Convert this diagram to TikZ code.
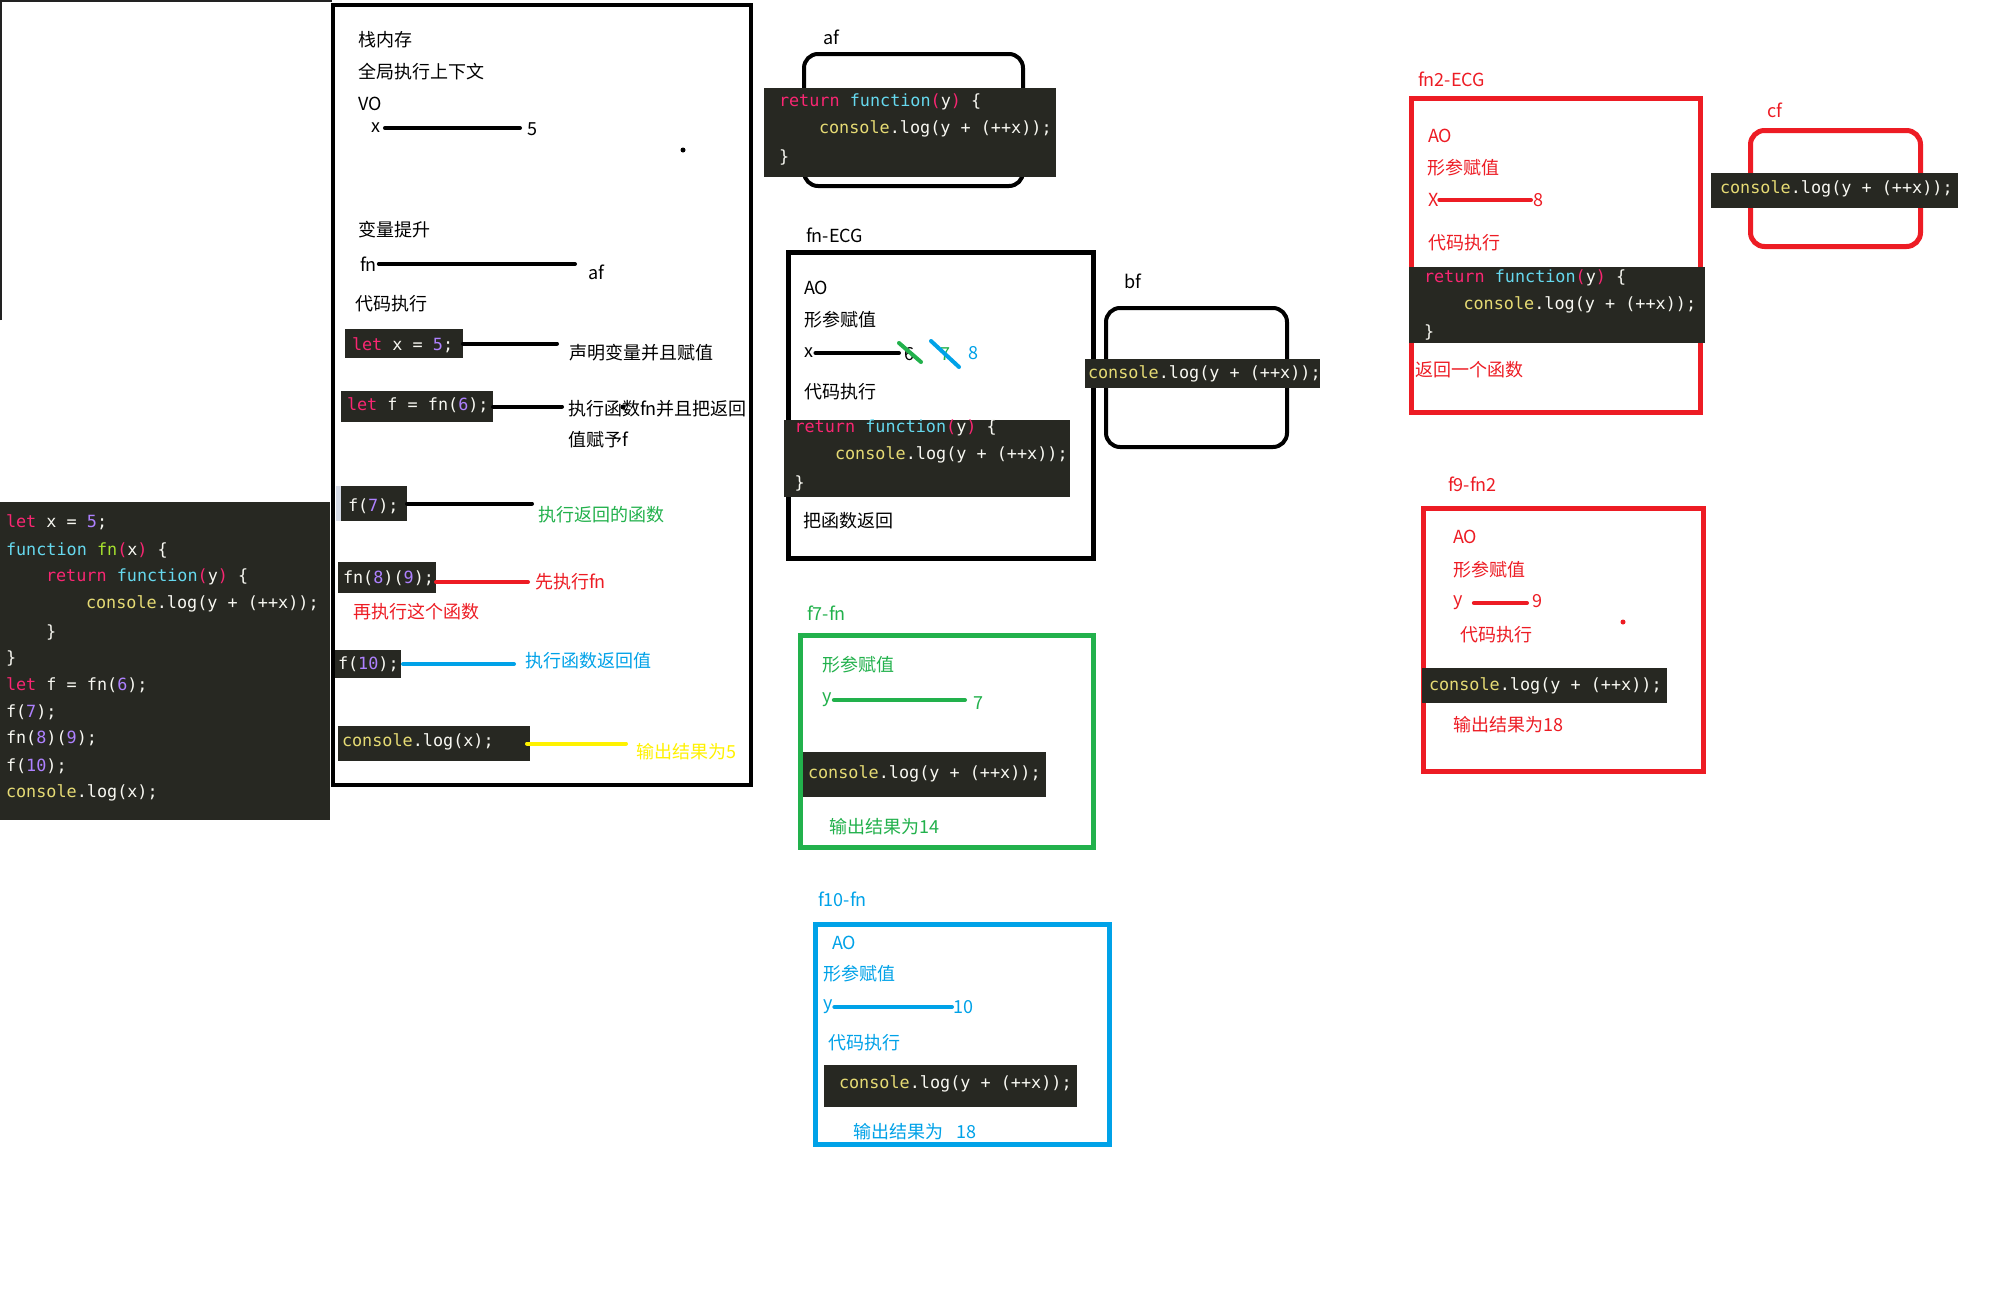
\documentclass[tikz,border=0pt]{standalone}
\usepackage{fontspec}
\setmainfont{Noto Sans CJK SC}
\newfontfamily\codefont{DejaVu Sans Mono}

% editor palette
\definecolor{codebg}{HTML}{272822}
\definecolor{mkwhite}{HTML}{F8F8F2}
\definecolor{mkpink}{HTML}{F92672}
\definecolor{mkcyan}{HTML}{66D9EF}
\definecolor{mkgreen}{HTML}{A6E22E}
\definecolor{mkpurple}{HTML}{AE81FF}
\definecolor{mkyellow}{HTML}{E6DB74}
% marker palette
\definecolor{pgreen}{HTML}{22B14C}
\definecolor{pred}{HTML}{ED1C24}
\definecolor{pblue}{HTML}{00A2E8}
\definecolor{pyellow}{HTML}{FFF200}
\definecolor{edgegray}{HTML}{222222}
\definecolor{stripgray}{HTML}{D5DAE6}

\newcommand\cjkfs{\fontsize{18}{22}\selectfont}
\newcommand\codefs{\codefont\fontsize{16.8}{20}\selectfont}
\newcommand\jskw[1]{\textcolor{mkpink}{#1}}
\newcommand\jsfn[1]{\textcolor{mkcyan}{#1}}
\newcommand\jsnm[1]{\textcolor{mkpurple}{#1}}
\newcommand\jsdef[1]{\textcolor{mkgreen}{#1}}
\newcommand\jslog{\textcolor{mkyellow}{console}}
\newcommand\jsret{\jskw{return} \jsfn{function}\jskw{(}y\jskw{)} \{}
\newcommand\jsbody{\jslog.log(y + (++x));}

\tikzset{
  txt/.style={anchor=west, inner sep=0pt, outer sep=0pt, font=\cjkfs},
  codeline/.style={anchor=west, inner sep=0pt, outer sep=0pt, font=\codefs, text=mkwhite},
  codepanel/.style={anchor=north west, fill=codebg, draw=none, inner sep=0pt, outer sep=0pt},
  boxframe/.style={draw, anchor=north west, inner sep=0pt, outer sep=0pt},
  linkbar/.style={line width=4pt, line cap=round},
  blob/.style={circle, fill, inner sep=0pt, minimum size=5pt},
}

\begin{document}
\begin{tikzpicture}[x=1pt, y=-1pt]
\useasboundingbox (0,0) rectangle (2016,1304);
\fill[white] (0,0) rectangle (2016,1304);

% ---------- source listing on the left ----------
\draw[edgegray, line width=2pt] (1,320) -- (1,1) -- (332,1);
\node[codepanel, minimum width=330pt, minimum height=318pt] (src) at (0,502) {};
\node[codeline] (s1)  at (6,522)  {\jskw{let} x = \jsnm{5};};
\node[codeline] (s2)  at (6,550)  {\jsfn{function} \jsdef{fn}\jskw{(}x\jskw{)} \{};
\node[codeline] (s3)  at (46,577) {\jsret};
\node[codeline] (s4)  at (86,604) {\jsbody};
\node[codeline] (s5)  at (46,632) {\}};
\node[codeline] (s6)  at (6,658)  {\}};
\node[codeline] (s7)  at (6,685)  {\jskw{let} f = fn(\jsnm{6});};
\node[codeline] (s8)  at (6,712)  {f(\jsnm{7});};
\node[codeline] (s9)  at (6,738)  {fn(\jsnm{8})(\jsnm{9});};
\node[codeline] (s10) at (6,766)  {f(\jsnm{10});};
\node[codeline] (s11) at (6,793)  {\jslog.log(x);};

% ---------- stack memory ----------
\node[boxframe, line width=4pt, minimum width=418pt, minimum height=780pt] (stack) at (333,5) {};
\node[txt] (st1) at (358,40)  {栈内存};
\node[txt] (st2) at (358,72)  {全局执行上下文};
\node[txt] (st3) at (358,104) {VO};
\node[txt] (vx)  at (371,128) {x};
\node[txt] (v5)  at (527,129) {5};
\draw[linkbar] ([xshift=5pt]vx.east) -- ([xshift=-7pt]v5.west |- vx.east);
\node[blob] (sd1) at (683,150) {};
\node[txt] (st4) at (358,230) {变量提升};
\node[txt] (vfn) at (360,264) {fn};
\node[txt] (vaf) at (588,272) {af};
\draw[linkbar] ([xshift=2pt]vfn.east) -- ([xshift=-13pt]vaf.west |- vfn.east);
\node[txt] (st5) at (355,304) {代码执行};

\node[codepanel, minimum width=118pt, minimum height=29pt] (c1) at (345,329) {};
\node[codeline] (c1t) at (352,345) {\jskw{let} x = \jsnm{5};};
\node[txt] (l1) at (569,353) {声明变量并且赋值};
\draw[linkbar] (c1.east) -- ([xshift=-12pt]l1.west |- c1.east);

\node[codepanel, minimum width=152pt, minimum height=31pt] (c2) at (341,391) {};
\node[codeline] (c2t) at (347,405) {\jskw{let} f = fn(\jsnm{6});};
\node[txt] (l2) at (568,409) {执行函数fn并且把返回};
\node[txt] (l2b) at (568,440) {值赋予f};
\draw[linkbar] (c2.east) -- ([xshift=-6pt]l2.west |- c2.east);
\node[blob] (sd2) at (623,407) {};

\fill[stripgray] (336,486) rectangle (341,521);
\node[codepanel, minimum width=66pt, minimum height=35pt] (c3) at (341,486) {};
\node[codeline] (c3t) at (348,506) {f(\jsnm{7});};
\node[txt, text=pgreen] (l3) at (538,515) {执行返回的函数};
\draw[linkbar] (c3.east) -- ([xshift=-6pt]l3.west |- c3.east);

\node[codepanel, minimum width=98pt, minimum height=31pt] (c4) at (338,562) {};
\node[codeline] (c4t) at (343,578) {fn(\jsnm{8})(\jsnm{9});};
\node[txt, text=pred] (l4) at (535,582) {先执行fn};
\node[txt, text=pred] (l4b) at (353,612) {再执行这个函数};
\draw[linkbar, pred] (c4.east |- l4.west) -- ([xshift=-7pt]l4.west);

\node[codepanel, minimum width=66pt, minimum height=28pt] (c5) at (335,650) {};
\node[codeline] (c5t) at (338,664) {f(\jsnm{10});};
\node[txt, text=pblue] (l5) at (525,661) {执行函数返回值};
\draw[linkbar, pblue] ([xshift=2pt]c5.east) -- ([xshift=-11pt]l5.west |- c5.east);

\node[codepanel, minimum width=192pt, minimum height=35pt] (c6) at (338,726) {};
\node[codeline] (c6t) at (342,742) {\jslog.log(x);};
\node[txt, text=pyellow] (l6) at (636,752) {输出结果为5};
\draw[linkbar, pyellow] ([xshift=-3pt]c6.east) -- ([xshift=-10pt]l6.west |- c6.east);

% ---------- heap object af ----------
\node[txt] (afl) at (823,37) {af};
\node[boxframe, line width=4pt, rounded corners=14pt, minimum width=219pt, minimum height=132pt] (afbox) at (804,54) {};
\node[codepanel, minimum width=292pt, minimum height=89pt] (afc) at (764,88) {};
\node[codeline] (af1) at (779,102) {\jsret};
\node[codeline] (af2) at (819,129) {\jsbody};
\node[codeline] (af3) at (779,157) {\}};

% ---------- fn execution context ----------
\node[txt] (fnl) at (806,235) {fn-ECG};
\node[boxframe, line width=5pt, minimum width=305pt, minimum height=306pt] (fnbox) at (788.5,252.5) {};
\node[txt] (fa1) at (804,288) {AO};
\node[txt] (fa2) at (804,320) {形参赋值};
\node[txt] (ex)  at (804,353) {x};
\node[txt] (e6)  at (904,354) {6};
\draw[linkbar] ([xshift=2.5pt]ex.east) -- ([xshift=-5pt]e6.west |- ex.east);
\draw[pgreen, line width=4pt, line cap=round] (899,343) -- (921,362);
\node[txt, text=pgreen] (e7) at (940,354) {7};
\draw[pblue, line width=4pt, line cap=round] (931,341) -- (959,367);
\node[txt, text=pblue] (e8) at (968,353) {8};
\node[txt] (fa3) at (804,392) {代码执行};
\node[codepanel, minimum width=286pt, minimum height=77pt] (fnc) at (784,420) {};
\node[codeline] (fc1) at (794.5,428) {\jsret};
\node[codeline] (fc2) at (835,455) {\jsbody};
\node[codeline] (fc3) at (794.5,483) {\}};
\node[txt] (fa4) at (803,521) {把函数返回};

% ---------- heap object bf ----------
\node[txt] (bfl) at (1124,281) {bf};
\node[boxframe, line width=4pt, rounded corners=14pt, minimum width=181pt, minimum height=139pt] (bfbox) at (1106,308) {};
\node[codepanel, minimum width=235pt, minimum height=29pt] (bfc) at (1085,359) {};
\node[codeline] (bf1) at (1088,374) {\jsbody};

% ---------- f(7) context ----------
\node[txt, text=pgreen] (g0) at (807,613) {f7-fn};
\node[boxframe, draw=pgreen, line width=5pt, minimum width=293pt, minimum height=212pt] (gbox) at (800.5,635.5) {};
\node[txt, text=pgreen] (g1) at (822,665) {形参赋值};
\node[txt, text=pgreen] (gy) at (822,700) {y};
\node[txt, text=pgreen] (g7) at (973,703) {7};
\draw[linkbar, pgreen] ([xshift=2.5pt]gy.east) -- ([xshift=-8pt]g7.west |- gy.east);
\node[codepanel, minimum width=243pt, minimum height=45pt] (gc) at (803,752) {};
\node[codeline] (gc1) at (808,774) {\jsbody};
\node[txt, text=pgreen] (g2) at (829,827) {输出结果为14};

% ---------- f(10) context ----------
\node[txt, text=pblue] (b0) at (818,899) {f10-fn};
\node[boxframe, draw=pblue, line width=5pt, minimum width=294pt, minimum height=220pt] (bbox) at (815.5,924.5) {};
\node[txt, text=pblue] (b1) at (832,943) {AO};
\node[txt, text=pblue] (b2) at (823,974) {形参赋值};
\node[txt, text=pblue] (by) at (823,1007) {y};
\node[txt, text=pblue] (b10) at (953,1007) {10};
\draw[linkbar, pblue] ([xshift=2pt]by.east) -- ([xshift=-1pt]b10.west |- by.east);
\node[txt, text=pblue] (b3) at (828,1043) {代码执行};
\node[codepanel, minimum width=253pt, minimum height=42pt] (bc) at (824,1065) {};
\node[codeline] (bc1) at (839,1084) {\jsbody};
\node[txt, text=pblue] (b4) at (853,1132) {输出结果为\hspace{0.75em}18};

% ---------- fn(8) context ----------
\node[txt, text=pred] (r0) at (1418,79) {fn2-ECG};
\node[boxframe, draw=pred, line width=5pt, minimum width=289pt, minimum height=314pt] (rbox) at (1411.5,98.5) {};
\node[txt, text=pred] (r1) at (1428,136) {AO};
\node[txt, text=pred] (r2) at (1427,168) {形参赋值};
\node[txt, text=pred] (rx) at (1428,200) {X};
\node[txt, text=pred] (r8) at (1533,200) {8};
\draw[linkbar, pred] ([xshift=1pt]rx.east) -- ([xshift=-2pt]r8.west |- rx.east);
\node[txt, text=pred] (r3) at (1428,243) {代码执行};
\node[codepanel, minimum width=296pt, minimum height=76pt] (rc) at (1409,267) {};
\node[codeline] (rc1) at (1424,278) {\jsret};
\node[codeline] (rc2) at (1463.5,305) {\jsbody};
\node[codeline] (rc3) at (1424,332) {\}};
\node[txt, text=pred] (r4) at (1415,370) {返回一个函数};

% ---------- heap object cf ----------
\node[txt, text=pred] (cfl) at (1767,110) {cf};
\node[boxframe, draw=pred, line width=5pt, rounded corners=14pt, minimum width=170pt, minimum height=116pt] (cfbox) at (1750.5,130.5) {};
\node[codepanel, minimum width=247pt, minimum height=35pt] (cfc) at (1711,173) {};
\node[codeline] (cf1) at (1720,189) {\jsbody};

% ---------- fn(8)(9) context ----------
\node[txt, text=pred] (q0) at (1448,484) {f9-fn2};
\node[boxframe, draw=pred, line width=5pt, minimum width=280pt, minimum height=263pt] (qbox) at (1423.5,508.5) {};
\node[txt, text=pred] (q1) at (1453,537) {AO};
\node[txt, text=pred] (q2) at (1453,570) {形参赋值};
\node[txt, text=pred] (qy) at (1453,603) {y};
\node[txt, text=pred] (q9) at (1532,601) {9};
\draw[linkbar, pred] ([xshift=11.5pt]qy.east) -- ([xshift=-5pt]q9.west |- qy.east);
\node[blob, pred] (qd) at (1623,622) {};
\node[txt, text=pred] (q3) at (1460,635) {代码执行};
\node[codepanel, minimum width=245pt, minimum height=35pt] (qc) at (1422,668) {};
\node[codeline] (qc1) at (1429,686) {\jsbody};
\node[txt, text=pred] (q4) at (1453,725) {输出结果为18};
\end{tikzpicture}
\end{document}
